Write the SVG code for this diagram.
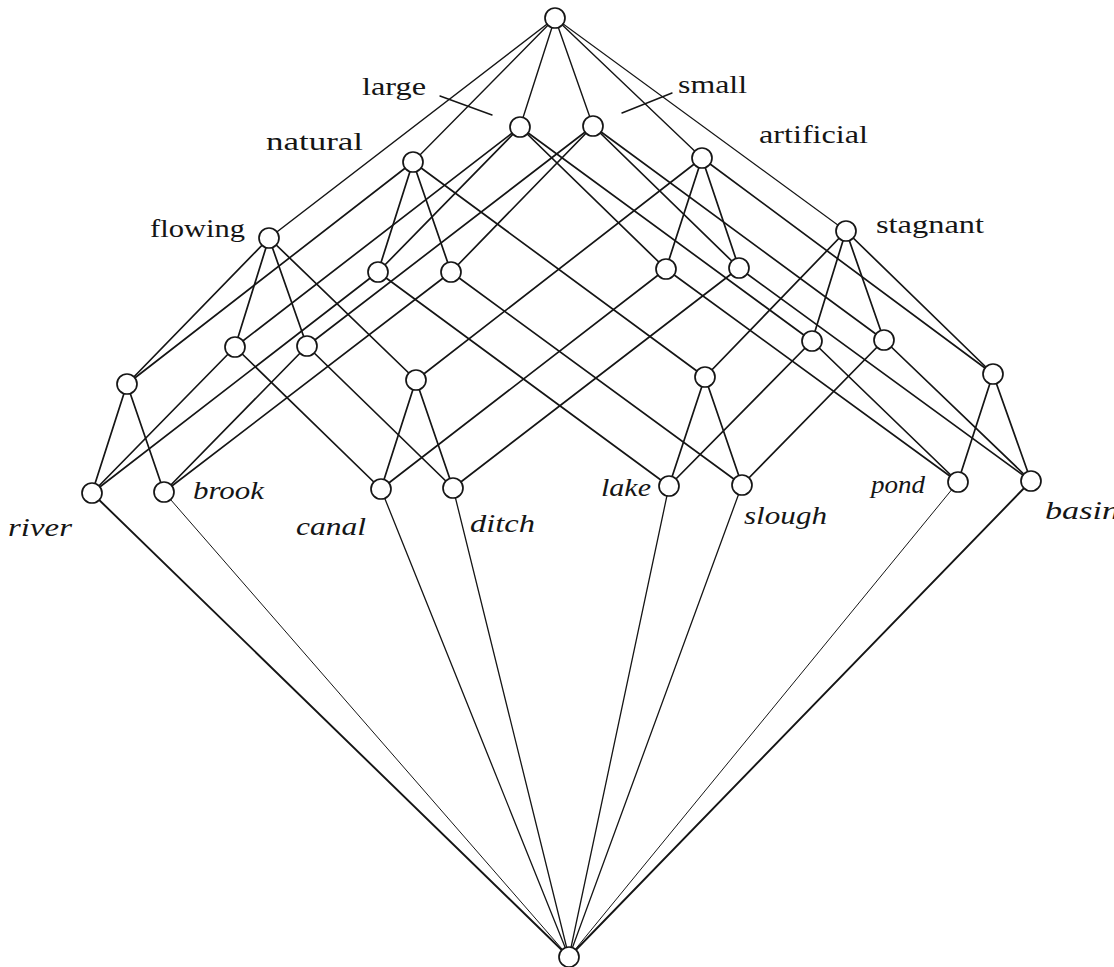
<svg xmlns="http://www.w3.org/2000/svg" width="1114" height="967" viewBox="0 0 1114 967">
<style>
.e{stroke:#151515;stroke-width:1.7;fill:none;stroke-linecap:round}
.t{stroke-width:1.4}
.thin{stroke-width:1}
.mid{stroke-width:1.3}
.thick{stroke-width:1.9}
.n{fill:#fff;stroke:#151515;stroke-width:1.7}
.a{font-family:"Liberation Serif","DejaVu Serif",serif;font-size:26px;fill:#151515}
.o{font-family:"Liberation Serif","DejaVu Serif",serif;font-size:26px;font-style:italic;fill:#151515}
</style>
<rect width="1114" height="967" fill="#fff"/>
<g id="connectors">
<line class="e t" x1="555" y1="18" x2="520" y2="127"/>
<line class="e t" x1="555" y1="18" x2="593" y2="126"/>
<line class="e t" x1="555" y1="18" x2="413" y2="162"/>
<line class="e t" x1="555" y1="18" x2="702" y2="158"/>
<line class="e" style="stroke-width:1.5" x1="555" y1="18" x2="269" y2="238"/>
<line class="e" style="stroke-width:1.1" x1="555" y1="18" x2="846" y2="231"/>
<line class="e" x1="269" y1="238" x2="127" y2="384"/>
<line class="e" x1="269" y1="238" x2="416" y2="380"/>
<line class="e" x1="269" y1="238" x2="235" y2="347"/>
<line class="e" x1="269" y1="238" x2="307" y2="346"/>
<line class="e" x1="846" y1="231" x2="705" y2="377"/>
<line class="e" x1="846" y1="231" x2="993" y2="374"/>
<line class="e" x1="846" y1="231" x2="812" y2="341"/>
<line class="e" x1="846" y1="231" x2="884" y2="340"/>
<line class="e" x1="413" y1="162" x2="127" y2="384"/>
<line class="e" x1="413" y1="162" x2="705" y2="377"/>
<line class="e" x1="413" y1="162" x2="378" y2="272"/>
<line class="e" x1="413" y1="162" x2="451" y2="272"/>
<line class="e" x1="702" y1="158" x2="416" y2="380"/>
<line class="e" x1="702" y1="158" x2="993" y2="374"/>
<line class="e" x1="702" y1="158" x2="666" y2="269"/>
<line class="e" x1="702" y1="158" x2="739" y2="268"/>
<line class="e" x1="520" y1="127" x2="235" y2="347"/>
<line class="e" x1="520" y1="127" x2="812" y2="341"/>
<line class="e" x1="520" y1="127" x2="378" y2="272"/>
<line class="e" x1="520" y1="127" x2="666" y2="269"/>
<line class="e" x1="593" y1="126" x2="307" y2="346"/>
<line class="e" x1="593" y1="126" x2="884" y2="340"/>
<line class="e" x1="593" y1="126" x2="451" y2="272"/>
<line class="e" x1="593" y1="126" x2="739" y2="268"/>
<line class="e" x1="127" y1="384" x2="92" y2="493"/>
<line class="e" x1="127" y1="384" x2="164" y2="492"/>
<line class="e" x1="416" y1="380" x2="381" y2="489"/>
<line class="e" x1="416" y1="380" x2="453" y2="488"/>
<line class="e" x1="705" y1="377" x2="669" y2="486"/>
<line class="e" x1="705" y1="377" x2="742" y2="485"/>
<line class="e" x1="993" y1="374" x2="958" y2="482"/>
<line class="e" x1="993" y1="374" x2="1031" y2="481"/>
<line class="e" x1="235" y1="347" x2="92" y2="493"/>
<line class="e" x1="235" y1="347" x2="381" y2="489"/>
<line class="e" x1="307" y1="346" x2="164" y2="492"/>
<line class="e" x1="307" y1="346" x2="453" y2="488"/>
<line class="e" x1="812" y1="341" x2="669" y2="486"/>
<line class="e" x1="812" y1="341" x2="958" y2="482"/>
<line class="e" x1="884" y1="340" x2="742" y2="485"/>
<line class="e" x1="884" y1="340" x2="1031" y2="481"/>
<line class="e" x1="378" y1="272" x2="92" y2="493"/>
<line class="e" x1="378" y1="272" x2="669" y2="486"/>
<line class="e" x1="451" y1="272" x2="164" y2="492"/>
<line class="e" x1="451" y1="272" x2="742" y2="485"/>
<line class="e" x1="666" y1="269" x2="381" y2="489"/>
<line class="e" x1="666" y1="269" x2="958" y2="482"/>
<line class="e" x1="739" y1="268" x2="453" y2="488"/>
<line class="e" x1="739" y1="268" x2="1031" y2="481"/>
<line class="e thick" x1="92" y1="493" x2="569" y2="957"/>
<line class="e thin" x1="164" y1="492" x2="569" y2="957"/>
<line class="e mid" x1="381" y1="489" x2="569" y2="957"/>
<line class="e mid" x1="453" y1="488" x2="569" y2="957"/>
<line class="e mid" x1="669" y1="486" x2="569" y2="957"/>
<line class="e mid" x1="742" y1="485" x2="569" y2="957"/>
<line class="e thin" x1="958" y1="482" x2="569" y2="957"/>
<line class="e thick" x1="1031" y1="481" x2="569" y2="957"/>
<line class="e t" x1="440" y1="96" x2="492" y2="115"/>
<line class="e t" x1="622" y1="113" x2="672" y2="93"/>
</g>
<g id="top"><circle class="n" cx="555" cy="18" r="10"/></g>
<g id="large"><circle class="n" cx="520" cy="127" r="10"/><text class="a" x="362" y="95" textLength="64" lengthAdjust="spacingAndGlyphs">large</text></g>
<g id="small"><circle class="n" cx="593" cy="126" r="10"/><text class="a" x="678" y="93" textLength="69" lengthAdjust="spacingAndGlyphs">small</text></g>
<g id="natural"><circle class="n" cx="413" cy="162" r="10"/><text class="a" x="266" y="150" textLength="97" lengthAdjust="spacingAndGlyphs">natural</text></g>
<g id="artificial"><circle class="n" cx="702" cy="158" r="10"/><text class="a" x="759" y="143" textLength="109" lengthAdjust="spacingAndGlyphs">artificial</text></g>
<g id="flowing"><circle class="n" cx="269" cy="238" r="10"/><text class="a" x="150" y="237" textLength="95" lengthAdjust="spacingAndGlyphs">flowing</text></g>
<g id="stagnant"><circle class="n" cx="846" cy="231" r="10"/><text class="a" x="876" y="233" textLength="108" lengthAdjust="spacingAndGlyphs">stagnant</text></g>
<g id="natural-large"><circle class="n" cx="378" cy="272" r="10"/></g>
<g id="natural-small"><circle class="n" cx="451" cy="272" r="10"/></g>
<g id="artificial-large"><circle class="n" cx="666" cy="269" r="10"/></g>
<g id="artificial-small"><circle class="n" cx="739" cy="268" r="10"/></g>
<g id="flowing-large"><circle class="n" cx="235" cy="347" r="10"/></g>
<g id="flowing-small"><circle class="n" cx="307" cy="346" r="10"/></g>
<g id="stagnant-large"><circle class="n" cx="812" cy="341" r="10"/></g>
<g id="stagnant-small"><circle class="n" cx="884" cy="340" r="10"/></g>
<g id="flowing-natural"><circle class="n" cx="127" cy="384" r="10"/></g>
<g id="flowing-artificial"><circle class="n" cx="416" cy="380" r="10"/></g>
<g id="stagnant-natural"><circle class="n" cx="705" cy="377" r="10"/></g>
<g id="stagnant-artificial"><circle class="n" cx="993" cy="374" r="10"/></g>
<g id="river"><circle class="n" cx="92" cy="493" r="10"/><text class="o" x="8" y="536" textLength="64" lengthAdjust="spacingAndGlyphs">river</text></g>
<g id="brook"><circle class="n" cx="164" cy="492" r="10"/><text class="o" x="193" y="499" textLength="71" lengthAdjust="spacingAndGlyphs">brook</text></g>
<g id="canal"><circle class="n" cx="381" cy="489" r="10"/><text class="o" x="296" y="535" textLength="70" lengthAdjust="spacingAndGlyphs">canal</text></g>
<g id="ditch"><circle class="n" cx="453" cy="488" r="10"/><text class="o" x="470" y="532" textLength="65" lengthAdjust="spacingAndGlyphs">ditch</text></g>
<g id="lake"><circle class="n" cx="669" cy="486" r="10"/><text class="o" x="601" y="496" textLength="50" lengthAdjust="spacingAndGlyphs">lake</text></g>
<g id="slough"><circle class="n" cx="742" cy="485" r="10"/><text class="o" x="744" y="524" textLength="83" lengthAdjust="spacingAndGlyphs">slough</text></g>
<g id="pond"><circle class="n" cx="958" cy="482" r="10"/><text class="o" x="871" y="493" textLength="54" lengthAdjust="spacingAndGlyphs">pond</text></g>
<g id="basin"><circle class="n" cx="1031" cy="481" r="10"/><text class="o" x="1045" y="519" textLength="74" lengthAdjust="spacingAndGlyphs">basin</text></g>
<g id="bottom"><circle class="n" cx="569" cy="957" r="10"/></g>
</svg>
